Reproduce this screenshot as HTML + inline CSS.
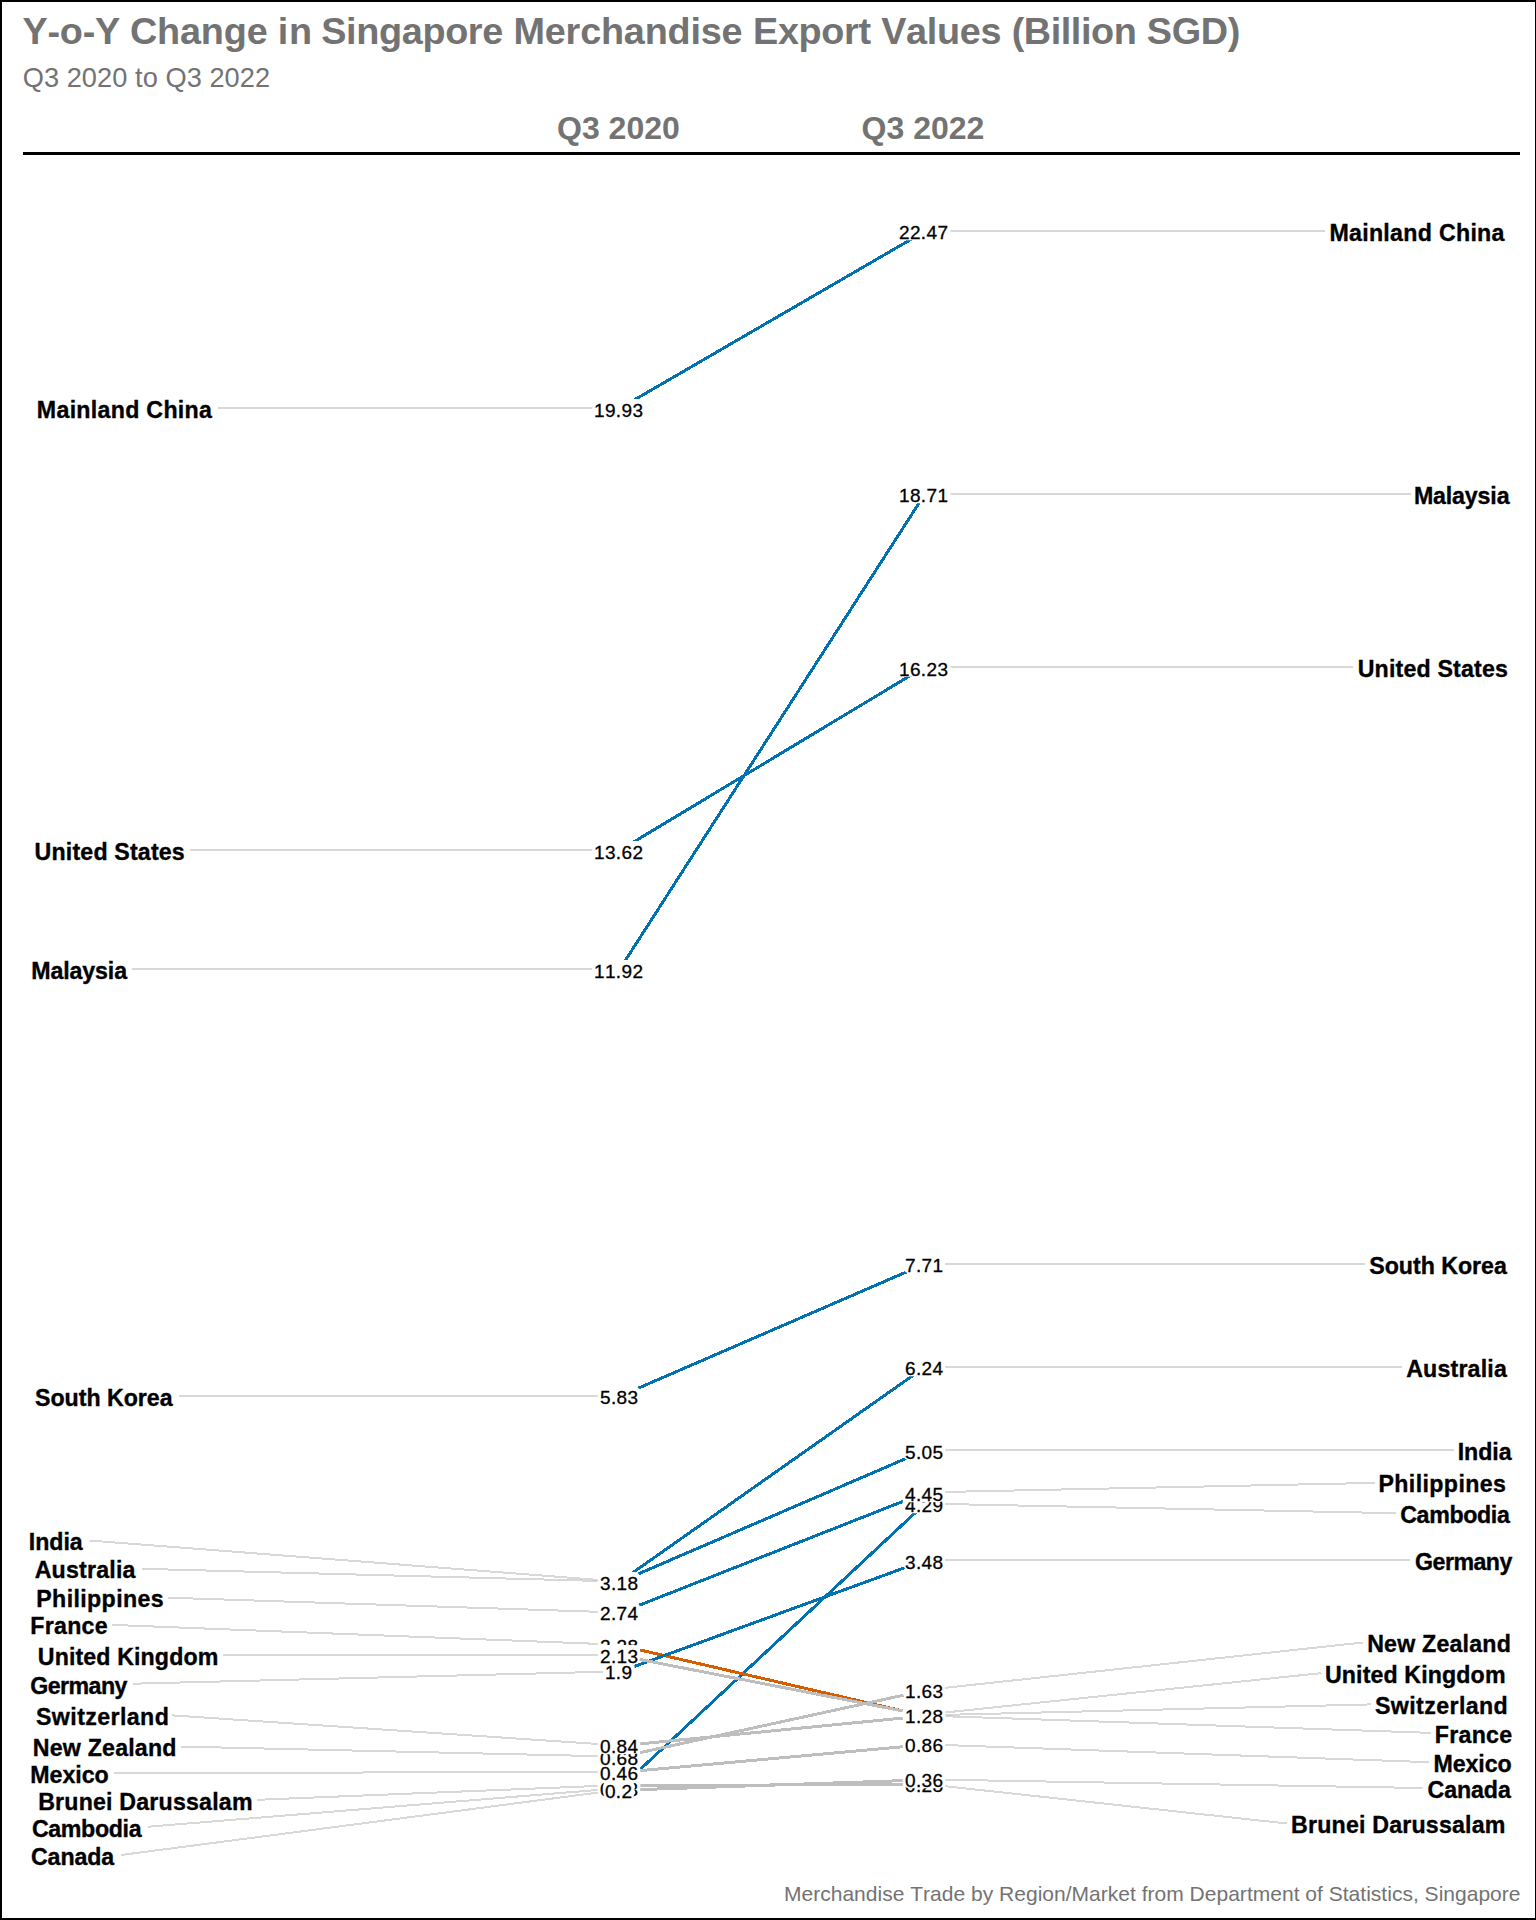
<!DOCTYPE html>
<html lang="en"><head><meta charset="utf-8"><title>Y-o-Y Change in Singapore Merchandise Export Values</title>
<style>
html,body{margin:0;padding:0;background:#fff}
body{width:1536px;height:1920px;overflow:hidden}
svg{display:block;font-family:"Liberation Sans",Arial,sans-serif;font-kerning:none}
.t{font-size:37.8px;font-weight:bold;fill:#737373;letter-spacing:.054px}
.st{font-size:27.2px;fill:#737373;letter-spacing:.06px}
.h{font-size:32px;font-weight:bold;fill:#737373;text-anchor:middle}
.cap{font-size:21px;fill:#737373;text-anchor:end;letter-spacing:.016px}
.c{font-size:23.2px;font-weight:bold;fill:#000;stroke:#000;stroke-width:.35px}
.ce{font-size:23.2px;font-weight:bold;fill:#000;text-anchor:end;stroke:#000;stroke-width:.35px}
.v{font-size:19px;fill:#000;text-anchor:middle;stroke:#000;stroke-width:.3px}
.s{fill:none;stroke-width:3;stroke-linecap:butt;shape-rendering:crispEdges}
.g{fill:none;stroke:#BEBEBE;stroke-opacity:.6;stroke-width:2;shape-rendering:crispEdges}
.b{fill:#fff}
</style></head><body>
<svg width="1536" height="1920" viewBox="0 0 1536 1920">
<rect x="0" y="0" width="1536" height="1920" fill="#fff"/>

<g class="s">
<line x1="619.5" y1="1582.0" x2="924.5" y2="1367.3" stroke="#0072B2"/>
<line x1="619.5" y1="1785.6" x2="924.5" y2="1784.4" stroke="#BEBEBE"/>
<line x1="619.5" y1="1788.7" x2="924.5" y2="1504.1" stroke="#0072B2"/>
<line x1="619.5" y1="1790.3" x2="924.5" y2="1779.9" stroke="#BEBEBE"/>
<line x1="619.5" y1="1645.2" x2="924.5" y2="1716.0" stroke="#D55E00"/>
<line x1="619.5" y1="1671.9" x2="924.5" y2="1560.5" stroke="#0072B2"/>
<line x1="619.5" y1="1582.0" x2="924.5" y2="1450.5" stroke="#0072B2"/>
<line x1="619.5" y1="408.5" x2="924.5" y2="231.5" stroke="#0072B2"/>
<line x1="619.5" y1="969.5" x2="924.5" y2="494.5" stroke="#0072B2"/>
<line x1="619.5" y1="1772.5" x2="924.5" y2="1744.8" stroke="#BEBEBE"/>
<line x1="619.5" y1="1757.1" x2="924.5" y2="1690.6" stroke="#BEBEBE"/>
<line x1="619.5" y1="1613.0" x2="924.5" y2="1492.9" stroke="#0072B2"/>
<line x1="619.5" y1="1396.3" x2="924.5" y2="1264.1" stroke="#0072B2"/>
<line x1="619.5" y1="1745.9" x2="924.5" y2="1715.9" stroke="#BEBEBE"/>
<line x1="619.5" y1="1655.5" x2="924.5" y2="1715.2" stroke="#BEBEBE"/>
<line x1="619.5" y1="850.5" x2="924.5" y2="667.0" stroke="#0072B2"/>
</g>
<g class="g">
<line x1="218.3" y1="408.0" x2="619.0" y2="408.0"/>
<line x1="190.3" y1="850.0" x2="619.0" y2="850.0"/>
<line x1="132.5" y1="968.8" x2="619.0" y2="969.0"/>
<line x1="178.7" y1="1395.7" x2="619.0" y2="1395.8"/>
<line x1="89.5" y1="1540.5" x2="619.0" y2="1581.5"/>
<line x1="141.6" y1="1568.8" x2="619.0" y2="1581.5"/>
<line x1="168.4" y1="1597.7" x2="619.0" y2="1612.5"/>
<line x1="112.3" y1="1624.9" x2="619.0" y2="1644.7"/>
<line x1="222.7" y1="1654.8" x2="619.0" y2="1655.0"/>
<line x1="133.2" y1="1683.7" x2="619.0" y2="1671.4"/>
<line x1="172.3" y1="1715.4" x2="619.0" y2="1745.4"/>
<line x1="181.0" y1="1746.6" x2="619.0" y2="1756.6"/>
<line x1="114.3" y1="1773.0" x2="619.0" y2="1772.0"/>
<line x1="257.4" y1="1799.8" x2="619.0" y2="1785.1"/>
<line x1="148.4" y1="1826.7" x2="619.0" y2="1788.2"/>
<line x1="121.1" y1="1855.0" x2="619.0" y2="1789.8"/>
<line x1="924.0" y1="231.0" x2="1325.4" y2="230.8"/>
<line x1="924.0" y1="494.0" x2="1411.4" y2="493.8"/>
<line x1="924.0" y1="666.5" x2="1353.2" y2="666.6"/>
<line x1="924.0" y1="1263.6" x2="1365.3" y2="1263.8"/>
<line x1="924.0" y1="1366.8" x2="1402.0" y2="1366.7"/>
<line x1="924.0" y1="1450.0" x2="1454.4" y2="1449.9"/>
<line x1="924.0" y1="1492.4" x2="1374.7" y2="1482.9"/>
<line x1="924.0" y1="1503.6" x2="1395.8" y2="1513.2"/>
<line x1="924.0" y1="1560.0" x2="1410.4" y2="1560.0"/>
<line x1="924.0" y1="1690.1" x2="1363.0" y2="1642.5"/>
<line x1="924.0" y1="1714.7" x2="1321.5" y2="1673.1"/>
<line x1="924.0" y1="1715.4" x2="1371.2" y2="1704.4"/>
<line x1="924.0" y1="1715.5" x2="1431.3" y2="1732.9"/>
<line x1="924.0" y1="1744.3" x2="1429.4" y2="1762.2"/>
<line x1="924.0" y1="1779.4" x2="1422.5" y2="1788.0"/>
<line x1="924.0" y1="1783.9" x2="1286.8" y2="1823.5"/>
</g>
<g>
<text class="c" x="36.85" y="418.3" style="letter-spacing:0.288px">Mainland China</text>
<text class="c" x="34.60" y="860.3" style="letter-spacing:0.167px">United States</text>
<text class="c" x="31.35" y="979.1" style="letter-spacing:-0.143px">Malaysia</text>
<text class="c" x="35.00" y="1406.2" style="letter-spacing:-0.025px">South Korea</text>
<text class="c" x="28.80" y="1550.0" style="letter-spacing:-0.062px">India</text>
<text class="c" x="34.70" y="1578.1" style="letter-spacing:0.187px">Australia</text>
<text class="c" x="36.25" y="1606.8" style="letter-spacing:0.375px">Philippines</text>
<text class="c" x="30.35" y="1634.0" style="letter-spacing:0.250px">France</text>
<text class="c" x="37.80" y="1665.2" style="letter-spacing:0.115px">United Kingdom</text>
<text class="c" x="30.15" y="1694.1" style="letter-spacing:-0.542px">Germany</text>
<text class="c" x="36.00" y="1725.1" style="letter-spacing:0.400px">Switzerland</text>
<text class="c" x="32.75" y="1755.9" style="letter-spacing:0.200px">New Zealand</text>
<text class="c" x="30.35" y="1782.7" style="letter-spacing:-0.050px">Mexico</text>
<text class="c" x="38.15" y="1810.0" style="letter-spacing:0.188px">Brunei Darussalam</text>
<text class="c" x="31.95" y="1836.8" style="letter-spacing:-0.357px">Cambodia</text>
<text class="c" x="30.95" y="1864.7" style="letter-spacing:-0.100px">Canada</text>
<text class="ce" x="1504.75" y="241.3" style="letter-spacing:0.288px">Mainland China</text>
<text class="ce" x="1509.45" y="504.2" style="letter-spacing:-0.143px">Malaysia</text>
<text class="ce" x="1508.05" y="677.1" style="letter-spacing:0.167px">United States</text>
<text class="ce" x="1506.80" y="1274.2" style="letter-spacing:-0.025px">South Korea</text>
<text class="ce" x="1507.05" y="1377.2" style="letter-spacing:0.187px">Australia</text>
<text class="ce" x="1511.50" y="1460.3" style="letter-spacing:-0.062px">India</text>
<text class="ce" x="1506.30" y="1492.2" style="letter-spacing:0.375px">Philippines</text>
<text class="ce" x="1509.45" y="1522.8" style="letter-spacing:-0.357px">Cambodia</text>
<text class="ce" x="1511.85" y="1570.3" style="letter-spacing:-0.542px">Germany</text>
<text class="ce" x="1511.10" y="1652.1" style="letter-spacing:0.200px">New Zealand</text>
<text class="ce" x="1505.65" y="1683.2" style="letter-spacing:0.115px">United Kingdom</text>
<text class="ce" x="1508.20" y="1714.0" style="letter-spacing:0.400px">Switzerland</text>
<text class="ce" x="1512.35" y="1743.0" style="letter-spacing:0.250px">France</text>
<text class="ce" x="1511.70" y="1772.1" style="letter-spacing:-0.050px">Mexico</text>
<text class="ce" x="1510.70" y="1798.0" style="letter-spacing:-0.100px">Canada</text>
<text class="ce" x="1505.65" y="1833.2" style="letter-spacing:0.188px">Brunei Darussalam</text>
</g>
<g>
<rect class="b" x="597.8" y="1571.9" width="42.4" height="19.3" rx="6.5"/><text class="v" x="619.0" y="1590.0" textLength="38" lengthAdjust="spacing">3.18</text>
<rect class="b" x="597.8" y="1774.9" width="42.4" height="19.3" rx="6.5"/><text class="v" x="619.0" y="1793.0" textLength="38" lengthAdjust="spacing">0.25</text>
<rect class="b" x="597.8" y="1777.9" width="42.4" height="19.3" rx="6.5"/><text class="v" x="619.0" y="1796.0" textLength="38" lengthAdjust="spacing">0.23</text>
<rect class="b" x="603.2" y="1779.9" width="31.4" height="19.3" rx="6.5"/><text class="v" x="618.5" y="1798.0" textLength="27" lengthAdjust="spacing">0.2</text>
<rect class="b" x="597.8" y="1634.9" width="42.4" height="19.3" rx="6.5"/><text class="v" x="619.0" y="1653.0" textLength="38" lengthAdjust="spacing">2.28</text>
<rect class="b" x="603.2" y="1660.9" width="31.4" height="19.3" rx="6.5"/><text class="v" x="618.5" y="1679.0" textLength="27" lengthAdjust="spacing">1.9</text>
<rect class="b" x="597.8" y="1571.9" width="42.4" height="19.3" rx="6.5"/><text class="v" x="619.0" y="1590.0" textLength="38" lengthAdjust="spacing">3.18</text>
<rect class="b" x="592.2" y="398.9" width="53.4" height="19.3" rx="6.5"/><text class="v" x="618.5" y="417.0" textLength="49" lengthAdjust="spacing">19.93</text>
<rect class="b" x="592.2" y="959.9" width="53.4" height="19.3" rx="6.5"/><text class="v" x="618.5" y="978.0" textLength="49" lengthAdjust="spacing">11.92</text>
<rect class="b" x="597.8" y="1761.9" width="42.4" height="19.3" rx="6.5"/><text class="v" x="619.0" y="1780.0" textLength="38" lengthAdjust="spacing">0.46</text>
<rect class="b" x="597.8" y="1746.9" width="42.4" height="19.3" rx="6.5"/><text class="v" x="619.0" y="1765.0" textLength="38" lengthAdjust="spacing">0.68</text>
<rect class="b" x="597.8" y="1601.9" width="42.4" height="19.3" rx="6.5"/><text class="v" x="619.0" y="1620.0" textLength="38" lengthAdjust="spacing">2.74</text>
<rect class="b" x="597.8" y="1385.9" width="42.4" height="19.3" rx="6.5"/><text class="v" x="619.0" y="1404.0" textLength="38" lengthAdjust="spacing">5.83</text>
<rect class="b" x="597.8" y="1734.9" width="42.4" height="19.3" rx="6.5"/><text class="v" x="619.0" y="1753.0" textLength="38" lengthAdjust="spacing">0.84</text>
<rect class="b" x="597.8" y="1644.9" width="42.4" height="19.3" rx="6.5"/><text class="v" x="619.0" y="1663.0" textLength="38" lengthAdjust="spacing">2.13</text>
<rect class="b" x="592.2" y="840.9" width="53.4" height="19.3" rx="6.5"/><text class="v" x="618.5" y="859.0" textLength="49" lengthAdjust="spacing">13.62</text>
<rect class="b" x="902.8" y="1356.9" width="42.4" height="19.3" rx="6.5"/><text class="v" x="924.0" y="1375.0" textLength="38" lengthAdjust="spacing">6.24</text>
<rect class="b" x="902.8" y="1773.9" width="42.4" height="19.3" rx="6.5"/><text class="v" x="924.0" y="1792.0" textLength="38" lengthAdjust="spacing">0.28</text>
<rect class="b" x="902.8" y="1493.9" width="42.4" height="19.3" rx="6.5"/><text class="v" x="924.0" y="1512.0" textLength="38" lengthAdjust="spacing">4.29</text>
<rect class="b" x="902.8" y="1768.9" width="42.4" height="19.3" rx="6.5"/><text class="v" x="924.0" y="1787.0" textLength="38" lengthAdjust="spacing">0.36</text>
<rect class="b" x="902.8" y="1704.9" width="42.4" height="19.3" rx="6.5"/><text class="v" x="924.0" y="1723.0" textLength="38" lengthAdjust="spacing">1.27</text>
<rect class="b" x="902.8" y="1550.9" width="42.4" height="19.3" rx="6.5"/><text class="v" x="924.0" y="1569.0" textLength="38" lengthAdjust="spacing">3.48</text>
<rect class="b" x="902.8" y="1440.9" width="42.4" height="19.3" rx="6.5"/><text class="v" x="924.0" y="1459.0" textLength="38" lengthAdjust="spacing">5.05</text>
<rect class="b" x="897.2" y="220.9" width="53.4" height="19.3" rx="6.5"/><text class="v" x="923.5" y="239.0" textLength="49" lengthAdjust="spacing">22.47</text>
<rect class="b" x="897.2" y="483.9" width="53.4" height="19.3" rx="6.5"/><text class="v" x="923.5" y="502.0" textLength="49" lengthAdjust="spacing">18.71</text>
<rect class="b" x="902.8" y="1733.9" width="42.4" height="19.3" rx="6.5"/><text class="v" x="924.0" y="1752.0" textLength="38" lengthAdjust="spacing">0.86</text>
<rect class="b" x="902.8" y="1679.9" width="42.4" height="19.3" rx="6.5"/><text class="v" x="924.0" y="1698.0" textLength="38" lengthAdjust="spacing">1.63</text>
<rect class="b" x="902.8" y="1482.9" width="42.4" height="19.3" rx="6.5"/><text class="v" x="924.0" y="1501.0" textLength="38" lengthAdjust="spacing">4.45</text>
<rect class="b" x="902.8" y="1253.9" width="42.4" height="19.3" rx="6.5"/><text class="v" x="924.0" y="1272.0" textLength="38" lengthAdjust="spacing">7.71</text>
<rect class="b" x="902.8" y="1704.9" width="42.4" height="19.3" rx="6.5"/><text class="v" x="924.0" y="1723.0" textLength="38" lengthAdjust="spacing">1.27</text>
<rect class="b" x="902.8" y="1704.9" width="42.4" height="19.3" rx="6.5"/><text class="v" x="924.0" y="1723.0" textLength="38" lengthAdjust="spacing">1.28</text>
<rect class="b" x="897.2" y="657.5" width="53.4" height="19.3" rx="6.5"/><text class="v" x="923.5" y="675.6" textLength="49" lengthAdjust="spacing">16.23</text>
</g>
<text class="t" y="44"><tspan x="22.60" style="letter-spacing:-0.271px">Y-o-Y </tspan><tspan x="129.90" style="letter-spacing:-0.146px">Change </tspan><tspan x="277.85" style="letter-spacing:0.704px">in </tspan><tspan x="321.25" style="letter-spacing:-0.352px">Singapore </tspan><tspan x="513.50" style="letter-spacing:-0.196px">Merchandise </tspan><tspan x="753.05" style="letter-spacing:-0.346px">Export </tspan><tspan x="881.20" style="letter-spacing:-0.296px">Values </tspan><tspan x="1011.70" style="letter-spacing:-0.425px">(Billion </tspan><tspan x="1146.85" style="letter-spacing:-0.296px">SGD)</tspan></text>
<text class="st" x="22.7" y="87.1">Q3 2020 to Q3 2022</text>
<text class="h" x="618.4" y="138.5">Q3 2020</text>
<text class="h" x="923" y="138.5">Q3 2022</text>
<rect x="23" y="152" width="1497" height="3" fill="#000"/>
<text class="cap" x="1520.5" y="1900.8">Merchandise Trade by Region/Market from Department of Statistics, Singapore</text>
<rect x="0" y="0" width="1536" height="2" fill="#000"/><rect x="0" y="0" width="2" height="1920" fill="#000"/><rect x="0" y="1918" width="1536" height="2" fill="#000"/><rect x="1535" y="0" width="1" height="1920" fill="#000"/>
</svg></body></html>
